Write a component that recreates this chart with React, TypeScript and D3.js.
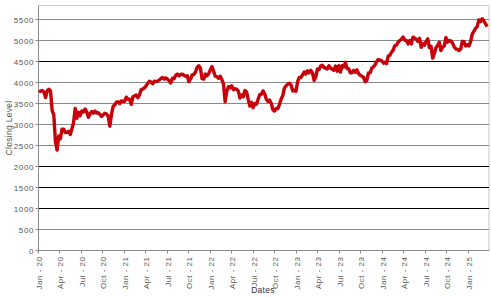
import React from "react";
import * as d3 from "d3";

// Weekly (Friday) closing levels
const y2020 = [3773, 3795, 3808, 3779, 3640, 3798, 3840, 3800, 3330, 3230, 2590, 2390, 2730, 2660, 2890, 2890, 2810, 2810, 2840, 2760, 2900, 3050, 3380, 3150, 3290, 3210, 3320, 3300, 3370, 3300, 3170, 3250, 3310, 3270, 3320, 3270, 3280, 3240, 3190, 3230, 3270, 3250, 3200, 2960, 3240, 3430, 3470, 3530, 3540, 3500, 3560, 3550];
const y2021 = [3550, 3650, 3600, 3600, 3480, 3660, 3680, 3700, 3640, 3700, 3830, 3840, 3870, 3920, 3980, 4030, 4010, 3970, 4030, 4020, 4030, 4060, 4090, 4120, 4080, 4110, 4080, 4040, 3990, 4100, 4090, 4170, 4200, 4160, 4190, 4200, 4170, 4150, 4160, 4020, 4080, 4180, 4190, 4250, 4360, 4400, 4340, 4090, 4080, 4200, 4160, 4210, 4300];
const y2022 = [4380, 4270, 4150, 4140, 4100, 4150, 4070, 3970, 3540, 3790, 3900, 3870, 3920, 3830, 3850, 3840, 3800, 3630, 3700, 3660, 3810, 3780, 3600, 3440, 3530, 3400, 3500, 3480, 3600, 3710, 3720, 3800, 3730, 3600, 3550, 3580, 3500, 3350, 3320, 3380, 3380, 3480, 3610, 3690, 3870, 3920, 3960, 3980, 3940, 3800, 3810, 3790];
const y2023 = [4020, 4120, 4120, 4180, 4250, 4200, 4280, 4230, 4290, 4230, 4050, 4130, 4320, 4310, 4390, 4410, 4360, 4340, 4320, 4400, 4340, 4320, 4290, 4390, 4270, 4400, 4250, 4400, 4370, 4480, 4330, 4330, 4230, 4230, 4290, 4240, 4300, 4210, 4170, 4150, 4120, 4020, 4050, 4230, 4230, 4340, 4370, 4420, 4500, 4550, 4530, 4520];
const y2024 = [4460, 4480, 4450, 4630, 4650, 4720, 4770, 4880, 4890, 4960, 5000, 5030, 5080, 5010, 5000, 4920, 5000, 4920, 5080, 5060, 5030, 4980, 5050, 4840, 4930, 4890, 4980, 5040, 4830, 4860, 4580, 4690, 4830, 4880, 4960, 4760, 4840, 4870, 5070, 4960, 5000, 4990, 4940, 4850, 4800, 4790, 4760, 4800, 4980, 4970, 4870, 4900];
const y2025 = [4870, 4980, 5150, 5220, 5290, 5330, 5490, 5450, 5520, 5470, 5400, 5330];

const seriesByYear: [number, number[]][] = [
  [2020, y2020], [2021, y2021], [2022, y2022], [2023, y2023], [2024, y2024], [2025, y2025],
];

const yTicks = [0, 500, 1000, 1500, 2000, 2500, 3000, 3500, 4000, 4500, 5000, 5500];
const darkGrid = [1000, 1500, 2000, 4500];
const monthNames = ["Jan", "Apr", "Jul", "Oct"];

const W = 491, H = 297;
const left = 38.5, right = 489, top = 5.5, bottom = 250.5;

export default function App() {
  const data: { d: Date; v: number }[] = [];
  seriesByYear.forEach(([yr, vals]) => {
    const fridays = d3.timeFriday.range(new Date(yr, 0, 1), new Date(yr + 1, 0, 1));
    vals.forEach((v, i) => { if (fridays[i]) data.push({ d: fridays[i], v }); });
  });

  const x = d3.scaleTime().domain([new Date(2020, 0, 1), new Date(2025, 0, 1)]).range([left, 468.5]);
  const y = d3.scaleLinear().domain([0, 5500]).range([bottom, 19.5]);

  const line = d3.line<{ d: Date; v: number }>().x(p => x(p.d)).y(p => y(p.v)).curve(d3.curveLinear);

  const xTicks = d3.timeMonth.every(3)!.range(new Date(2020, 0, 1), new Date(2025, 1, 2));

  const font = "'Liberation Sans', Arial, sans-serif";

  return (
    <svg width={W} height={H} style={{ position: "absolute", left: 0, top: 0, background: "#fff" }}>
      {/* frame */}
      <line x1={left} x2={right} y1={top} y2={top} stroke="#c8c8c8" />
      <line x1={right} x2={right} y1={top} y2={bottom} stroke="#c8c8c8" />
      {yTicks.map(t => {
        const yy = Math.round(y(t) - 0.5) + 0.5;
        return (
          <g key={t}>
            {t > 0 && (
              <line x1={left} x2={right} y1={yy} y2={yy} stroke={darkGrid.includes(t) ? "#000" : "#8a8a8a"} />
            )}
            <line x1={left - 3} x2={left} y1={yy} y2={yy} stroke="#8a8a8a" />
            <text x={34} y={yy + 3} textAnchor="end" fontFamily={font} fontSize={8} fill="#555" letterSpacing={0.6}>
              {t}
            </text>
          </g>
        );
      })}
      {/* axes */}
      <line x1={left} x2={left} y1={top} y2={bottom} stroke="#8a8a8a" />
      <line x1={left} x2={right} y1={bottom} y2={bottom} stroke="#8a8a8a" />
      {xTicks.map((t, i) => {
        const xx = Math.round(x(t) - 0.5) + 0.5;
        const label = `${monthNames[t.getMonth() / 3]} - ${String(t.getFullYear()).slice(2)}`;
        return (
          <g key={i}>
            <line x1={xx} x2={xx} y1={bottom} y2={bottom + 3} stroke="#8a8a8a" />
            <text
              transform={`translate(${xx + 3},${bottom + 6}) rotate(-90)`}
              textAnchor="end"
              fontFamily={font}
              fontSize={8}
              fill="#555"
              letterSpacing={0.5}
            >
              {label}
            </text>
          </g>
        );
      })}
      <path d={line(data) || ""} fill="none" stroke="#c8000a" strokeWidth={3.4} strokeLinejoin="round" />
      <text
        transform={`translate(12,${(top + bottom) / 2}) rotate(-90)`}
        textAnchor="middle"
        fontFamily={font}
        fontSize={8.5}
        fill="#555"
        letterSpacing={0.3}
      >
        Closing Level
      </text>
      <text x={263} y={293} textAnchor="middle" fontFamily={font} fontSize={8.5} fill="#333" letterSpacing={0.3}>
        Dates
      </text>
    </svg>
  );
}
